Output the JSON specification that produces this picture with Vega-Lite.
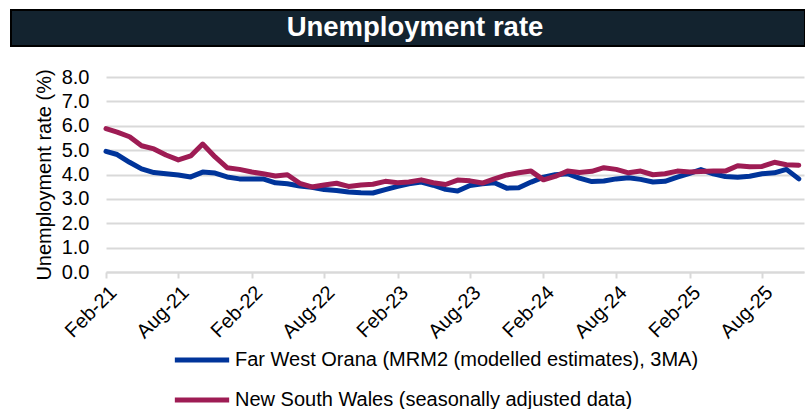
{
  "$schema": "https://vega.github.io/schema/vega-lite/v6.json",
  "background": "white",
  "padding": {"left": 10, "top": 9, "right": 0, "bottom": 0},
  "config": {
    "font": "Liberation Sans",
    "view": {"stroke": null},
    "concat": {"spacing": 20}
  },
  "spacing": 20,
  "datasets": {
    "heading": [{"t": "Unemployment rate"}],
    "empty": [],
    "series": [
      {"m": "2021-02-01", "s": "Far West Orana (MRM2 (modelled estimates), 3MA)", "v": 4.95},
      {"m": "2021-03-01", "s": "Far West Orana (MRM2 (modelled estimates), 3MA)", "v": 4.82},
      {"m": "2021-04-01", "s": "Far West Orana (MRM2 (modelled estimates), 3MA)", "v": 4.5},
      {"m": "2021-05-01", "s": "Far West Orana (MRM2 (modelled estimates), 3MA)", "v": 4.23},
      {"m": "2021-06-01", "s": "Far West Orana (MRM2 (modelled estimates), 3MA)", "v": 4.08},
      {"m": "2021-07-01", "s": "Far West Orana (MRM2 (modelled estimates), 3MA)", "v": 4.03},
      {"m": "2021-08-01", "s": "Far West Orana (MRM2 (modelled estimates), 3MA)", "v": 3.98},
      {"m": "2021-09-01", "s": "Far West Orana (MRM2 (modelled estimates), 3MA)", "v": 3.9},
      {"m": "2021-10-01", "s": "Far West Orana (MRM2 (modelled estimates), 3MA)", "v": 4.1},
      {"m": "2021-11-01", "s": "Far West Orana (MRM2 (modelled estimates), 3MA)", "v": 4.06},
      {"m": "2021-12-01", "s": "Far West Orana (MRM2 (modelled estimates), 3MA)", "v": 3.9},
      {"m": "2022-01-01", "s": "Far West Orana (MRM2 (modelled estimates), 3MA)", "v": 3.82},
      {"m": "2022-02-01", "s": "Far West Orana (MRM2 (modelled estimates), 3MA)", "v": 3.82},
      {"m": "2022-03-01", "s": "Far West Orana (MRM2 (modelled estimates), 3MA)", "v": 3.82},
      {"m": "2022-04-01", "s": "Far West Orana (MRM2 (modelled estimates), 3MA)", "v": 3.66},
      {"m": "2022-05-01", "s": "Far West Orana (MRM2 (modelled estimates), 3MA)", "v": 3.62},
      {"m": "2022-06-01", "s": "Far West Orana (MRM2 (modelled estimates), 3MA)", "v": 3.53},
      {"m": "2022-07-01", "s": "Far West Orana (MRM2 (modelled estimates), 3MA)", "v": 3.48},
      {"m": "2022-08-01", "s": "Far West Orana (MRM2 (modelled estimates), 3MA)", "v": 3.38},
      {"m": "2022-09-01", "s": "Far West Orana (MRM2 (modelled estimates), 3MA)", "v": 3.34},
      {"m": "2022-10-01", "s": "Far West Orana (MRM2 (modelled estimates), 3MA)", "v": 3.28},
      {"m": "2022-11-01", "s": "Far West Orana (MRM2 (modelled estimates), 3MA)", "v": 3.25},
      {"m": "2022-12-01", "s": "Far West Orana (MRM2 (modelled estimates), 3MA)", "v": 3.24},
      {"m": "2023-01-01", "s": "Far West Orana (MRM2 (modelled estimates), 3MA)", "v": 3.38},
      {"m": "2023-02-01", "s": "Far West Orana (MRM2 (modelled estimates), 3MA)", "v": 3.51},
      {"m": "2023-03-01", "s": "Far West Orana (MRM2 (modelled estimates), 3MA)", "v": 3.62},
      {"m": "2023-04-01", "s": "Far West Orana (MRM2 (modelled estimates), 3MA)", "v": 3.69},
      {"m": "2023-05-01", "s": "Far West Orana (MRM2 (modelled estimates), 3MA)", "v": 3.56},
      {"m": "2023-06-01", "s": "Far West Orana (MRM2 (modelled estimates), 3MA)", "v": 3.39},
      {"m": "2023-07-01", "s": "Far West Orana (MRM2 (modelled estimates), 3MA)", "v": 3.32},
      {"m": "2023-08-01", "s": "Far West Orana (MRM2 (modelled estimates), 3MA)", "v": 3.55},
      {"m": "2023-09-01", "s": "Far West Orana (MRM2 (modelled estimates), 3MA)", "v": 3.62},
      {"m": "2023-10-01", "s": "Far West Orana (MRM2 (modelled estimates), 3MA)", "v": 3.66},
      {"m": "2023-11-01", "s": "Far West Orana (MRM2 (modelled estimates), 3MA)", "v": 3.44},
      {"m": "2023-12-01", "s": "Far West Orana (MRM2 (modelled estimates), 3MA)", "v": 3.46},
      {"m": "2024-01-01", "s": "Far West Orana (MRM2 (modelled estimates), 3MA)", "v": 3.69},
      {"m": "2024-02-01", "s": "Far West Orana (MRM2 (modelled estimates), 3MA)", "v": 3.89},
      {"m": "2024-03-01", "s": "Far West Orana (MRM2 (modelled estimates), 3MA)", "v": 3.99},
      {"m": "2024-04-01", "s": "Far West Orana (MRM2 (modelled estimates), 3MA)", "v": 4.03},
      {"m": "2024-05-01", "s": "Far West Orana (MRM2 (modelled estimates), 3MA)", "v": 3.85},
      {"m": "2024-06-01", "s": "Far West Orana (MRM2 (modelled estimates), 3MA)", "v": 3.71},
      {"m": "2024-07-01", "s": "Far West Orana (MRM2 (modelled estimates), 3MA)", "v": 3.73},
      {"m": "2024-08-01", "s": "Far West Orana (MRM2 (modelled estimates), 3MA)", "v": 3.82},
      {"m": "2024-09-01", "s": "Far West Orana (MRM2 (modelled estimates), 3MA)", "v": 3.87},
      {"m": "2024-10-01", "s": "Far West Orana (MRM2 (modelled estimates), 3MA)", "v": 3.8},
      {"m": "2024-11-01", "s": "Far West Orana (MRM2 (modelled estimates), 3MA)", "v": 3.69},
      {"m": "2024-12-01", "s": "Far West Orana (MRM2 (modelled estimates), 3MA)", "v": 3.72},
      {"m": "2025-01-01", "s": "Far West Orana (MRM2 (modelled estimates), 3MA)", "v": 3.89},
      {"m": "2025-02-01", "s": "Far West Orana (MRM2 (modelled estimates), 3MA)", "v": 4.05},
      {"m": "2025-03-01", "s": "Far West Orana (MRM2 (modelled estimates), 3MA)", "v": 4.2},
      {"m": "2025-04-01", "s": "Far West Orana (MRM2 (modelled estimates), 3MA)", "v": 4.03},
      {"m": "2025-05-01", "s": "Far West Orana (MRM2 (modelled estimates), 3MA)", "v": 3.92},
      {"m": "2025-06-01", "s": "Far West Orana (MRM2 (modelled estimates), 3MA)", "v": 3.89},
      {"m": "2025-07-01", "s": "Far West Orana (MRM2 (modelled estimates), 3MA)", "v": 3.93},
      {"m": "2025-08-01", "s": "Far West Orana (MRM2 (modelled estimates), 3MA)", "v": 4.03},
      {"m": "2025-09-01", "s": "Far West Orana (MRM2 (modelled estimates), 3MA)", "v": 4.07},
      {"m": "2025-10-01", "s": "Far West Orana (MRM2 (modelled estimates), 3MA)", "v": 4.21},
      {"m": "2025-11-01", "s": "Far West Orana (MRM2 (modelled estimates), 3MA)", "v": 3.82},
      {"m": "2021-02-01", "s": "New South Wales (seasonally adjusted data)", "v": 5.88},
      {"m": "2021-03-01", "s": "New South Wales (seasonally adjusted data)", "v": 5.74},
      {"m": "2021-04-01", "s": "New South Wales (seasonally adjusted data)", "v": 5.55},
      {"m": "2021-05-01", "s": "New South Wales (seasonally adjusted data)", "v": 5.18},
      {"m": "2021-06-01", "s": "New South Wales (seasonally adjusted data)", "v": 5.05},
      {"m": "2021-07-01", "s": "New South Wales (seasonally adjusted data)", "v": 4.8},
      {"m": "2021-08-01", "s": "New South Wales (seasonally adjusted data)", "v": 4.6},
      {"m": "2021-09-01", "s": "New South Wales (seasonally adjusted data)", "v": 4.76},
      {"m": "2021-10-01", "s": "New South Wales (seasonally adjusted data)", "v": 5.25},
      {"m": "2021-11-01", "s": "New South Wales (seasonally adjusted data)", "v": 4.72},
      {"m": "2021-12-01", "s": "New South Wales (seasonally adjusted data)", "v": 4.28},
      {"m": "2022-01-01", "s": "New South Wales (seasonally adjusted data)", "v": 4.21},
      {"m": "2022-02-01", "s": "New South Wales (seasonally adjusted data)", "v": 4.1},
      {"m": "2022-03-01", "s": "New South Wales (seasonally adjusted data)", "v": 4.03},
      {"m": "2022-04-01", "s": "New South Wales (seasonally adjusted data)", "v": 3.94},
      {"m": "2022-05-01", "s": "New South Wales (seasonally adjusted data)", "v": 3.99},
      {"m": "2022-06-01", "s": "New South Wales (seasonally adjusted data)", "v": 3.64},
      {"m": "2022-07-01", "s": "New South Wales (seasonally adjusted data)", "v": 3.49},
      {"m": "2022-08-01", "s": "New South Wales (seasonally adjusted data)", "v": 3.57},
      {"m": "2022-09-01", "s": "New South Wales (seasonally adjusted data)", "v": 3.64},
      {"m": "2022-10-01", "s": "New South Wales (seasonally adjusted data)", "v": 3.51},
      {"m": "2022-11-01", "s": "New South Wales (seasonally adjusted data)", "v": 3.57},
      {"m": "2022-12-01", "s": "New South Wales (seasonally adjusted data)", "v": 3.6},
      {"m": "2023-01-01", "s": "New South Wales (seasonally adjusted data)", "v": 3.72},
      {"m": "2023-02-01", "s": "New South Wales (seasonally adjusted data)", "v": 3.66},
      {"m": "2023-03-01", "s": "New South Wales (seasonally adjusted data)", "v": 3.69},
      {"m": "2023-04-01", "s": "New South Wales (seasonally adjusted data)", "v": 3.78},
      {"m": "2023-05-01", "s": "New South Wales (seasonally adjusted data)", "v": 3.66},
      {"m": "2023-06-01", "s": "New South Wales (seasonally adjusted data)", "v": 3.59},
      {"m": "2023-07-01", "s": "New South Wales (seasonally adjusted data)", "v": 3.77},
      {"m": "2023-08-01", "s": "New South Wales (seasonally adjusted data)", "v": 3.74},
      {"m": "2023-09-01", "s": "New South Wales (seasonally adjusted data)", "v": 3.65},
      {"m": "2023-10-01", "s": "New South Wales (seasonally adjusted data)", "v": 3.82},
      {"m": "2023-11-01", "s": "New South Wales (seasonally adjusted data)", "v": 3.98},
      {"m": "2023-12-01", "s": "New South Wales (seasonally adjusted data)", "v": 4.07},
      {"m": "2024-01-01", "s": "New South Wales (seasonally adjusted data)", "v": 4.14},
      {"m": "2024-02-01", "s": "New South Wales (seasonally adjusted data)", "v": 3.78},
      {"m": "2024-03-01", "s": "New South Wales (seasonally adjusted data)", "v": 3.92},
      {"m": "2024-04-01", "s": "New South Wales (seasonally adjusted data)", "v": 4.14},
      {"m": "2024-05-01", "s": "New South Wales (seasonally adjusted data)", "v": 4.08},
      {"m": "2024-06-01", "s": "New South Wales (seasonally adjusted data)", "v": 4.13},
      {"m": "2024-07-01", "s": "New South Wales (seasonally adjusted data)", "v": 4.28},
      {"m": "2024-08-01", "s": "New South Wales (seasonally adjusted data)", "v": 4.21},
      {"m": "2024-09-01", "s": "New South Wales (seasonally adjusted data)", "v": 4.07},
      {"m": "2024-10-01", "s": "New South Wales (seasonally adjusted data)", "v": 4.14},
      {"m": "2024-11-01", "s": "New South Wales (seasonally adjusted data)", "v": 3.99},
      {"m": "2024-12-01", "s": "New South Wales (seasonally adjusted data)", "v": 4.03},
      {"m": "2025-01-01", "s": "New South Wales (seasonally adjusted data)", "v": 4.14},
      {"m": "2025-02-01", "s": "New South Wales (seasonally adjusted data)", "v": 4.1},
      {"m": "2025-03-01", "s": "New South Wales (seasonally adjusted data)", "v": 4.12},
      {"m": "2025-04-01", "s": "New South Wales (seasonally adjusted data)", "v": 4.14},
      {"m": "2025-05-01", "s": "New South Wales (seasonally adjusted data)", "v": 4.14},
      {"m": "2025-06-01", "s": "New South Wales (seasonally adjusted data)", "v": 4.36},
      {"m": "2025-07-01", "s": "New South Wales (seasonally adjusted data)", "v": 4.32},
      {"m": "2025-08-01", "s": "New South Wales (seasonally adjusted data)", "v": 4.33},
      {"m": "2025-09-01", "s": "New South Wales (seasonally adjusted data)", "v": 4.5},
      {"m": "2025-10-01", "s": "New South Wales (seasonally adjusted data)", "v": 4.4},
      {"m": "2025-11-01", "s": "New South Wales (seasonally adjusted data)", "v": 4.38}
    ]
  },
  "vconcat": [
    {
      "width": 794,
      "height": 36,
      "view": {"fill": "#13232f", "stroke": "#000000", "strokeWidth": 2},
      "data": {"name": "heading"},
      "mark": {"type": "text", "color": "white", "fontSize": 27.5, "fontWeight": "bold", "font": "Liberation Sans", "dx": 7},
      "encoding": {"text": {"field": "t", "type": "nominal"}}
    },
    {
      "spacing": 0,
      "hconcat": [
        {
          "width": 1,
          "height": 1,
          "data": {"name": "empty"},
          "mark": "point",
          "encoding": {}
        },
        {
          "width": 698,
          "height": 195,
          "data": {"name": "series"},
          "mark": {"type": "line", "strokeWidth": 5, "strokeJoin": "round", "strokeCap": "round"},
          "encoding": {
            "x": {
              "field": "m",
              "type": "temporal",
              "scale": {"type": "utc", "domain": [{"year": 2021, "month": 2, "date": 1, "utc": true}, {"year": 2025, "month": 11, "date": 14, "utc": true}]},
              "axis": {
                "title": null,
                "values": [
                  {"year": 2021, "month": 2, "date": 1, "utc": true},
                  {"year": 2021, "month": 8, "date": 1, "utc": true},
                  {"year": 2022, "month": 2, "date": 1, "utc": true},
                  {"year": 2022, "month": 8, "date": 1, "utc": true},
                  {"year": 2023, "month": 2, "date": 1, "utc": true},
                  {"year": 2023, "month": 8, "date": 1, "utc": true},
                  {"year": 2024, "month": 2, "date": 1, "utc": true},
                  {"year": 2024, "month": 8, "date": 1, "utc": true},
                  {"year": 2025, "month": 2, "date": 1, "utc": true},
                  {"year": 2025, "month": 8, "date": 1, "utc": true}
                ],
                "labelExpr": "utcFormat(datum.value, '%b-%y')",
                "labelAngle": -45,
                "labelAlign": "right",
                "labelBaseline": "top",
                "labelFontSize": 20,
                "labelColor": "#000000",
                "labelFlush": false,
                "labelOverlap": false,
                "labelBound": false,
                "labelPadding": 4,
                "grid": false,
                "domainColor": "#d9d9d9",
                "domainWidth": 2,
                "tickColor": "#d9d9d9",
                "tickWidth": 2,
                "tickSize": 6
              }
            },
            "y": {
              "field": "v",
              "type": "quantitative",
              "scale": {"domain": [0, 8]},
              "axis": {
                "title": "Unemployment rate (%)",
                "titleFontSize": 20,
                "titleFontWeight": "normal",
                "titleColor": "#000000",
                "titlePadding": 8,
                "titleX": -52,
                "minExtent": 94,
                "values": [0, 1, 2, 3, 4, 5, 6, 7, 8],
                "format": ".1f",
                "labelFontSize": 20,
                "labelColor": "#000000",
                "labelPadding": 17,
                "ticks": false,
                "domain": false,
                "gridColor": "#d9d9d9",
                "gridWidth": 2
              }
            },
            "color": {
              "field": "s",
              "type": "nominal",
              "scale": {
                "domain": ["Far West Orana (MRM2 (modelled estimates), 3MA)", "New South Wales (seasonally adjusted data)"],
                "range": ["#00349a", "#9e1c54"]
              },
              "legend": {
                "title": null,
                "orient": "none",
                "legendX": 161,
                "legendY": 320,
                "direction": "vertical",
                "symbolType": "stroke",
                "symbolStrokeWidth": 5,
                "symbolSize": 2950,
                "labelFontSize": 20,
                "labelColor": "#000000",
                "labelOffset": 3,
                "labelLimit": 700,
                "rowPadding": 0,
                "padding": 0
              }
            }
          }
        }
      ]
    }
  ]
}
